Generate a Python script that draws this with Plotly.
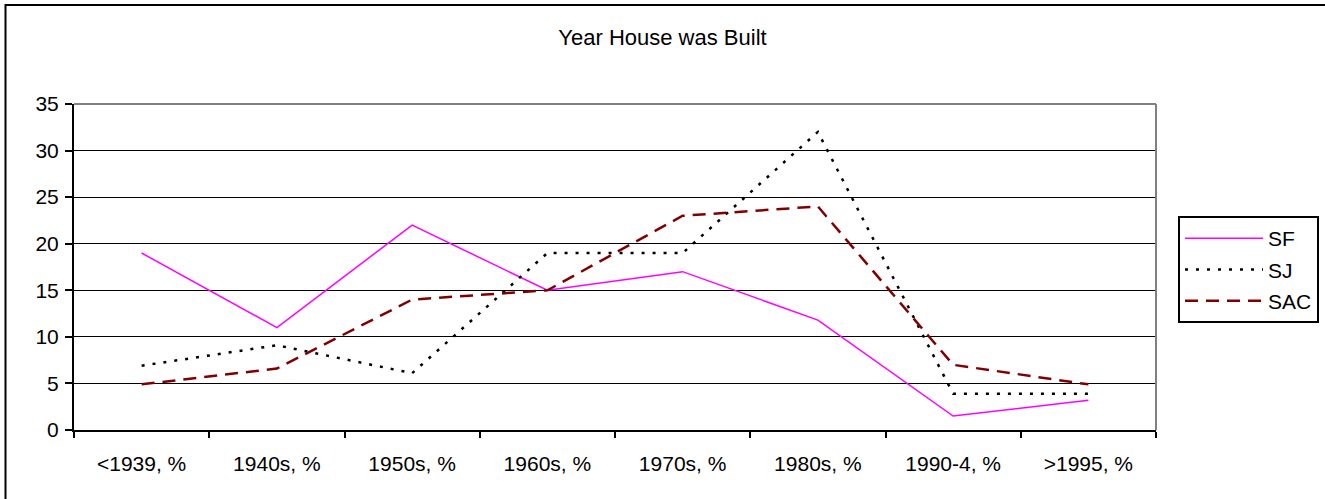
import plotly.graph_objects as go

categories = ["<1939, %", "1940s, %", "1950s, %", "1960s, %", "1970s, %", "1980s, %", "1990-4, %", ">1995, %"]
sf = [19, 11, 22, 15, 17, 11.8, 1.5, 3.2]
sj = [6.9, 9.1, 6.1, 19, 19, 32, 3.9, 3.9]
sac = [4.9, 6.6, 14, 15, 23, 24, 7, 4.9]
y_ticks = [0, 5, 10, 15, 20, 25, 30, 35]

FONT = "Arial, Liberation Sans, sans-serif"
W, H = 1325, 499
L, R, T, B = 74, 1156, 104, 430

def px(x):
    return (x - L) / (R - L)

def py(y):
    return (B - y) / (B - T)

fig = go.Figure()
fig.add_trace(go.Scatter(x=categories, y=sf, name="SF", mode="lines",
                         line=dict(color="#FF00FF", width=1.5), legendgroup="a"))
fig.add_trace(go.Scatter(x=categories, y=sj, name="SJ", mode="lines",
                         line=dict(color="#000000", width=2.5, dash="3px,8px"), legendgroup="b"))
fig.add_trace(go.Scatter(x=categories, y=sac, name="SAC", mode="lines",
                         line=dict(color="#800000", width=2.5, dash="13px,8px"), legendgroup="c"))

fig.update_layout(
    width=W, height=H,
    margin=dict(l=L, r=W - R, t=T, b=H - B, autoexpand=False),
    paper_bgcolor="white", plot_bgcolor="white",
    font=dict(family=FONT, size=21, color="black"),
    title=dict(text="Year House was Built", x=0.5, xanchor="center",
               y=1 - 37 / H, yanchor="middle", font=dict(size=22)),
    showlegend=True,
    legend=dict(x=px(1178), y=py(216), xanchor="left", yanchor="top",
                bgcolor="white", bordercolor="black", borderwidth=2,
                font=dict(size=21), itemwidth=78, tracegroupgap=1),
    xaxis=dict(type="category", categoryorder="array", categoryarray=categories,
               range=[-0.5, len(categories) - 0.5], tickson="boundaries",
               ticks="outside", ticklen=6, tickwidth=2, tickcolor="black",
               showline=True, linecolor="black", linewidth=2, ticklabelstandoff=14,
               showgrid=False, zeroline=False, fixedrange=True),
    yaxis=dict(range=[0, 35], tickvals=y_ticks, ticks="outside", ticklen=7,
               tickwidth=2, tickcolor="black", showline=True, linecolor="black",
               linewidth=2, showgrid=True, gridcolor="black", gridwidth=1,
               ticklabelstandoff=2, zeroline=False, fixedrange=True),
    shapes=[
        dict(type="line", xref="paper", yref="paper", x0=0, x1=1, y0=1, y1=1,
             line=dict(color="#808080", width=2), layer="above"),
        dict(type="line", xref="paper", yref="paper", x0=1, x1=1, y0=0, y1=1,
             line=dict(color="#808080", width=2), layer="above"),
        dict(type="rect", xref="paper", yref="paper",
             x0=px(5.5), x1=px(1340), y0=py(515), y1=py(5),
             line=dict(color="black", width=2), layer="below"),
    ],
)

fig.write_html("out.html", config={"displayModeBar": False},
               post_script="document.body.style.margin='0';document.body.style.padding='0';")
